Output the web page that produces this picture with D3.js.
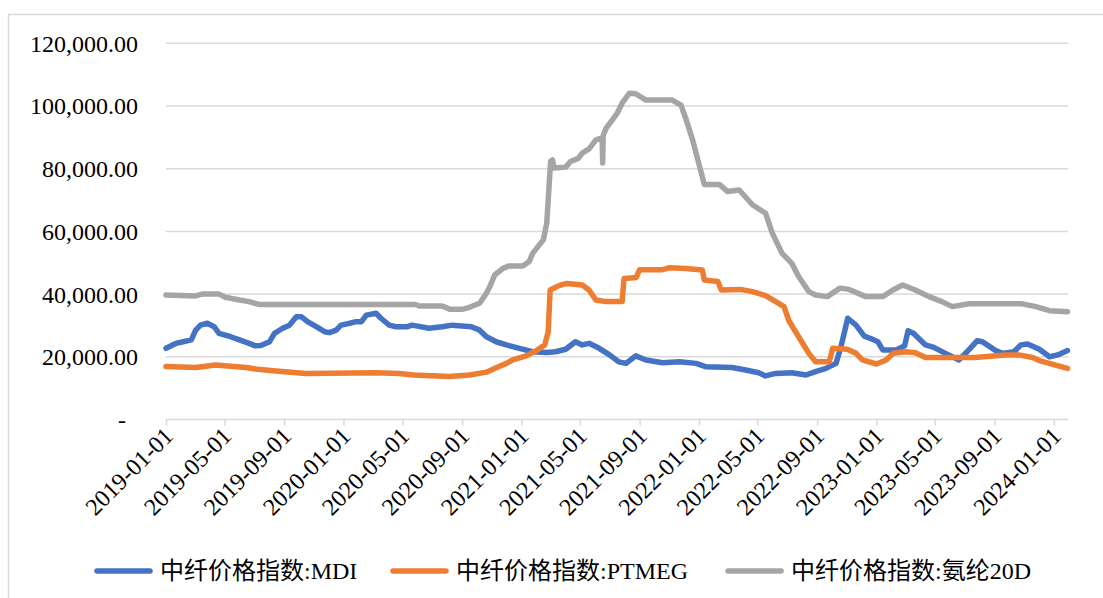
<!DOCTYPE html>
<html>
<head>
<meta charset="utf-8">
<script src="https://cdn.jsdelivr.net/npm/d3@7"></script>
<style>
  body { margin: 0; background: #fff; }
  svg text { font-family: "Liberation Serif", "Noto Sans CJK SC", serif; fill: #000; }
</style>
</head>
<body>
<div id="chart"></div>
<script>
(function(){

// series: [date, value]
var mdi = [
  ["2019-01-01",22700],["2019-01-22",24300],["2019-02-05",24800],["2019-02-22",25400],["2019-03-03",28500],
  ["2019-03-13",30100],["2019-03-27",30700],["2019-04-10",29600],["2019-04-20",27500],["2019-05-01",27000],
  ["2019-05-14",26400],["2019-06-01",25400],["2019-06-21",24300],["2019-07-04",23500],["2019-07-15",23600],
  ["2019-08-02",24800],["2019-08-12",27500],["2019-08-29",29100],["2019-09-12",30100],["2019-09-26",32800],
  ["2019-10-06",32800],["2019-10-19",31200],["2019-11-06",29600],["2019-11-23",28000],["2019-12-03",27700],
  ["2019-12-17",28500],["2019-12-27",30100],["2020-01-14",30700],["2020-01-27",31200],["2020-02-07",31200],
  ["2020-02-17",33300],["2020-03-08",33900],["2020-03-18",32300],["2020-04-04",30100],["2020-04-18",29600],
  ["2020-05-12",29600],["2020-05-21",30100],["2020-06-25",29100],["2020-07-22",29600],["2020-08-12",30100],
  ["2020-09-20",29600],["2020-10-07",28500],["2020-10-21",26400],["2020-11-10",24800],["2020-12-01",23800],
  ["2020-12-28",22700],["2021-01-24",21600],["2021-02-22",21400],["2021-03-12",21600],["2021-04-02",22400],
  ["2021-04-22",24800],["2021-05-06",23800],["2021-05-20",24300],["2021-06-10",22700],["2021-07-01",20600],
  ["2021-07-20",18400],["2021-08-04",17900],["2021-08-24",20300],["2021-09-14",19000],["2021-10-18",18100],
  ["2021-11-22",18400],["2021-12-26",17900],["2022-01-16",16800],["2022-03-10",16600],["2022-04-07",15800],
  ["2022-05-04",14900],["2022-05-18",13900],["2022-06-08",14700],["2022-07-11",14900],["2022-08-09",14200],
  ["2022-08-29",15300],["2022-09-19",16300],["2022-10-10",17900],["2022-10-20",23200],["2022-11-03",32300],
  ["2022-11-20",30100],["2022-12-07",26600],["2022-12-24",25600],["2023-01-04",24800],["2023-01-14",22200],
  ["2023-02-11",22200],["2023-02-28",23500],["2023-03-07",28300],["2023-03-18",27500],["2023-04-12",23800],
  ["2023-04-29",23000],["2023-05-23",21100],["2023-06-20",19000],["2023-07-10",22200],["2023-07-27",25100],
  ["2023-08-07",24800],["2023-09-01",22200],["2023-09-17",21100],["2023-10-11",21600],["2023-10-25",23800],
  ["2023-11-08",24100],["2023-12-02",22400],["2023-12-23",20000],["2024-01-09",20600],["2024-01-29",22000]
];

var ptmeg = [
  ["2019-01-01",16900],["2019-03-03",16600],["2019-04-13",17400],["2019-06-15",16600],["2019-07-08",16000],
  ["2019-08-27",15300],["2019-10-15",14700],["2020-03-08",14900],["2020-04-24",14700],["2020-05-25",14200],
  ["2020-08-06",13700],["2020-09-16",14200],["2020-10-21",15100],["2020-11-10",16500],["2020-12-01",17900],
  ["2020-12-14",19000],["2021-01-11",20300],["2021-02-01",22000],["2021-02-18",23800],["2021-02-25",28000],
  ["2021-03-01",41300],["2021-03-19",42700],["2021-04-04",43400],["2021-05-06",42900],["2021-05-20",41300],
  ["2021-06-03",38100],["2021-06-24",37600],["2021-07-27",37600],["2021-07-31",45000],["2021-08-25",45300],
  ["2021-09-01",47800],["2021-10-18",47800],["2021-11-02",48400],["2021-12-05",48200],["2022-01-08",47700],
  ["2022-01-12",44500],["2022-02-09",44000],["2022-02-16",41300],["2022-03-27",41500],["2022-04-21",40800],
  ["2022-05-18",39500],["2022-06-08",37600],["2022-06-25",36000],["2022-07-05",31500],["2022-07-25",26400],
  ["2022-08-15",21100],["2022-08-29",18400],["2022-09-26",18400],["2022-10-03",22700],["2022-11-02",22400],
  ["2022-11-20",21100],["2022-12-03",19000],["2023-01-01",17700],["2023-01-21",19000],["2023-02-04",21100],
  ["2023-03-02",21600],["2023-03-22",21300],["2023-04-12",19800],["2023-07-23",19800],["2023-09-24",20600],
  ["2023-10-21",20600],["2023-11-18",19800],["2023-12-02",18800],["2024-01-29",16300]
];

var spandex20d = [
  ["2019-01-01",39700],["2019-03-03",39400],["2019-03-16",40000],["2019-04-20",40000],["2019-05-03",39000],
  ["2019-06-01",38100],["2019-06-21",37600],["2019-07-11",36700],["2020-05-28",36700],["2020-06-05",36200],
  ["2020-07-22",36200],["2020-08-06",35200],["2020-09-03",35200],["2020-09-16",35800],["2020-10-07",37100],
  ["2020-10-21",40300],["2020-10-28",42400],["2020-11-07",46100],["2020-11-24",48200],["2020-12-07",49000],
  ["2021-01-04",49000],["2021-01-17",50400],["2021-01-24",53000],["2021-02-15",57300],["2021-02-22",62600],
  ["2021-03-02",82300],["2021-03-06",82800],["2021-03-09",80200],["2021-04-02",80500],["2021-04-12",82300],
  ["2021-04-28",83300],["2021-05-06",85000],["2021-05-20",86300],["2021-06-03",89200],["2021-06-16",89800],
  ["2021-06-17",81800],["2021-06-18",90500],["2021-06-24",92900],["2021-07-07",95600],["2021-07-17",97700],
  ["2021-07-27",100900],["2021-08-11",104100],["2021-08-24",103900],["2021-09-14",101900],["2021-11-07",101900],
  ["2021-11-25",100300],["2021-12-05",96000],["2021-12-19",89200],["2022-01-02",80900],["2022-01-12",75000],
  ["2022-02-12",75000],["2022-03-01",72700],["2022-03-25",73200],["2022-04-21",68500],["2022-05-18",65800],
  ["2022-06-01",59400],["2022-06-21",53000],["2022-07-11",49800],["2022-07-25",45600],["2022-08-15",40800],
  ["2022-08-29",39700],["2022-09-22",39200],["2022-10-18",41900],["2022-11-06",41500],["2022-12-10",39200],
  ["2023-01-14",39200],["2023-02-04",41300],["2023-02-24",42900],["2023-03-22",41300],["2023-04-19",39200],
  ["2023-05-16",37600],["2023-06-06",36000],["2023-07-10",36900],["2023-10-28",36900],["2023-11-25",36000],
  ["2023-12-23",34700],["2024-01-29",34400]
];

var seriesNames = ["中纤价格指数:MDI", "中纤价格指数:PTMEG", "中纤价格指数:氨纶20D"];
var seriesColors = ["#4472C4", "#ED7D31", "#A5A5A5"];
var yTicks = [0, 20000, 40000, 60000, 80000, 100000, 120000];
var xTickDates = ["2019-01-01","2019-05-01","2019-09-01","2020-01-01","2020-05-01","2020-09-01",
  "2021-01-01","2021-05-01","2021-09-01","2022-01-01","2022-05-01","2022-09-01",
  "2023-01-01","2023-05-01","2023-09-01","2024-01-01"];

var W = 1103, H = 598;
var plot = {left: 166, right: 1068, top: 43.3, bottom: 419.5};

var parseDate = d3.timeParse("%Y-%m-%d");
var fmtY = d3.format(",.2f");

var x = d3.scaleTime()
    .domain([parseDate("2019-01-01"), parseDate("2024-01-30")])
    .range([plot.left, plot.right]);
var y = d3.scaleLinear().domain([0, 120000]).range([plot.bottom, plot.top]);

var svg = d3.select("#chart").append("svg")
    .attr("width", W)
    .attr("height", H);

// chart frame
svg.append("rect")
    .attr("x", 8.5).attr("y", 14.5)
    .attr("width", W + 10).attr("height", H + 10)
    .attr("fill", "none")
    .attr("stroke", "#d9d9d9")
    .attr("stroke-width", 1.5);

// gridlines
svg.append("g").selectAll("line")
    .data(yTicks.filter(function(d) { return d > 0; }))
    .enter().append("line")
    .attr("x1", plot.left).attr("x2", plot.right)
    .attr("y1", function(d) { return y(d); })
    .attr("y2", function(d) { return y(d); })
    .attr("stroke", "#d9d9d9")
    .attr("stroke-width", 1.5);

// y labels
svg.append("g").selectAll("text")
    .data(yTicks)
    .enter().append("text")
    .attr("x", function(d) { return d === 0 ? 126 : 138; })
    .attr("y", function(d) { return y(d); })
    .attr("dy", "0.35em")
    .attr("text-anchor", "end")
    .style("font-size", "24px")
    .text(function(d) { return d === 0 ? "-" : fmtY(d); });

// x axis
var xAxis = d3.axisBottom(x)
    .tickValues(xTickDates.map(parseDate))
    .tickSize(6)
    .tickFormat(d3.timeFormat("%Y-%m-%d"));

var gx = svg.append("g")
    .attr("transform", "translate(0," + plot.bottom + ")")
    .call(xAxis)
    .attr("font-family", null)
    .attr("font-size", null);
gx.select(".domain").attr("stroke", "#d9d9d9").attr("stroke-width", 1.5)
    .attr("d", "M" + plot.left + ",0H" + plot.right);
gx.selectAll(".tick line").attr("stroke", "#d9d9d9").attr("stroke-width", 1.5);
gx.selectAll(".tick text")
    .style("font-size", "24px")
    .attr("fill", "#000")
    .attr("text-anchor", "end")
    .attr("y", 0).attr("dy", 0)
    .attr("transform", "translate(8,18) rotate(-45)");

// lines
var line = d3.line()
    .x(function(d) { return x(parseDate(d[0])); })
    .y(function(d) { return y(d[1]); });

var allSeries = [mdi, ptmeg, spandex20d];
svg.append("g").selectAll("path")
    .data(allSeries)
    .enter().append("path")
    .attr("d", line)
    .attr("fill", "none")
    .attr("stroke", function(d, i) { return seriesColors[i]; })
    .attr("stroke-width", 5.5)
    .attr("stroke-linejoin", "round")
    .attr("stroke-linecap", "round");

// legend
var legendX = [97, 393, 728];
var legend = svg.append("g").selectAll("g")
    .data(seriesNames)
    .enter().append("g")
    .attr("transform", function(d, i) { return "translate(" + legendX[i] + ",571)"; });
legend.append("line")
    .attr("x1", 0).attr("x2", 53)
    .attr("stroke", function(d, i) { return seriesColors[i]; })
    .attr("stroke-width", 5.5)
    .attr("stroke-linecap", "round");
legend.append("text")
    .attr("x", 63)
    .attr("dy", "0.35em")
    .style("font-size", "24px")
    .text(function(d) { return d; });

})();
</script>
</body>
</html>
